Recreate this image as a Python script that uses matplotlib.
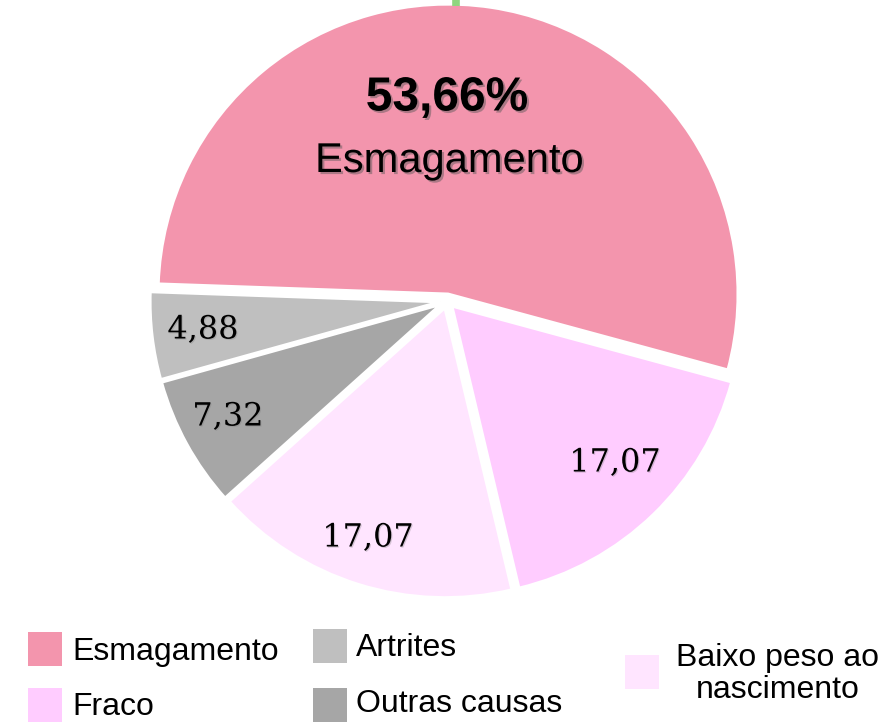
import matplotlib.pyplot as plt
import matplotlib.patheffects as pe
from matplotlib.patches import Rectangle

# causes of death (%)
causas = ['Esmagamento', 'Fraco', 'Baixo peso ao\nnascimento', 'Outras causas', 'Artrites']
valores = [53.66, 17.07, 17.07, 7.32, 4.88]
rotulos = ['53,66%\nEsmagamento', '17,07', '17,07', '7,32', '4,88']
cores = ['#F395AD', '#FFCCFF', '#FFE5FF', '#A6A6A6', '#BFBFBF']

W, H = 892, 722
fig = plt.figure(figsize=(W / 100, H / 100), dpi=100)
ax = fig.add_axes([0, 0, 1, 1])

cx, cy, R = 447, 301, 290
# y axis is inverted, so draw counterclockwise in data to get clockwise on screen
# (explode is in data units here)
wedges, _ = ax.pie(valores, colors=cores, startangle=-178, counterclock=True,
                   center=(cx, cy), radius=R, explode=[7] * len(valores),
                   wedgeprops=dict(edgecolor='white', linewidth=2.2),
                   frame=True)
ax.set_xlim(0, W)
ax.set_ylim(H, 0)
ax.axis('off')

# small green line at top
ax.plot([456, 456], [0, 6], color='#8FD67F', lw=5.5, solid_capstyle='butt', zorder=3)

sombra = [pe.withSimplePatchShadow(offset=(1.5, -1.5), shadow_rgbFace='#555555', alpha=0.45)]
ax.text(447, 98, '53,66%', ha='center', va='center', fontsize=34.5, fontweight='bold',
        family='Liberation Sans', path_effects=sombra)
ax.text(449, 161, 'Esmagamento', ha='center', va='center', fontsize=30,
        family='Liberation Sans', path_effects=sombra)

sombra2 = [pe.withSimplePatchShadow(offset=(0.8, -0.8), shadow_rgbFace='#777777', alpha=0.3)]
pos_num = {1: (615, 463), 2: (368, 538), 3: (228, 417), 4: (203, 330)}
for i, (x, y) in pos_num.items():
    ax.text(x, y, rotulos[i], ha='center', va='center', fontsize=23,
            family='DejaVu Serif', path_effects=sombra2)

# legend, drawn by hand to follow the reference layout
leg = [(0, 28, 632, 72, 652), (1, 28, 688, 72, 707), (4, 313, 629, 356, 648),
       (3, 313, 688, 356, 704), (2, 625, 655, 778, 674)]
for i, sx, sy, tx, ty in leg:
    ax.add_patch(Rectangle((sx, sy), 34, 34, facecolor=cores[i], edgecolor='none',
                           clip_on=False))
    if '\n' in causas[i]:
        ax.text(tx, ty, causas[i], ha='center', va='center', fontsize=23,
                family='Liberation Sans', linespacing=1.1)
    else:
        ax.text(tx, ty, causas[i], ha='left', va='center', fontsize=23,
                family='Liberation Sans')

fig.savefig('out.png', dpi=100)
